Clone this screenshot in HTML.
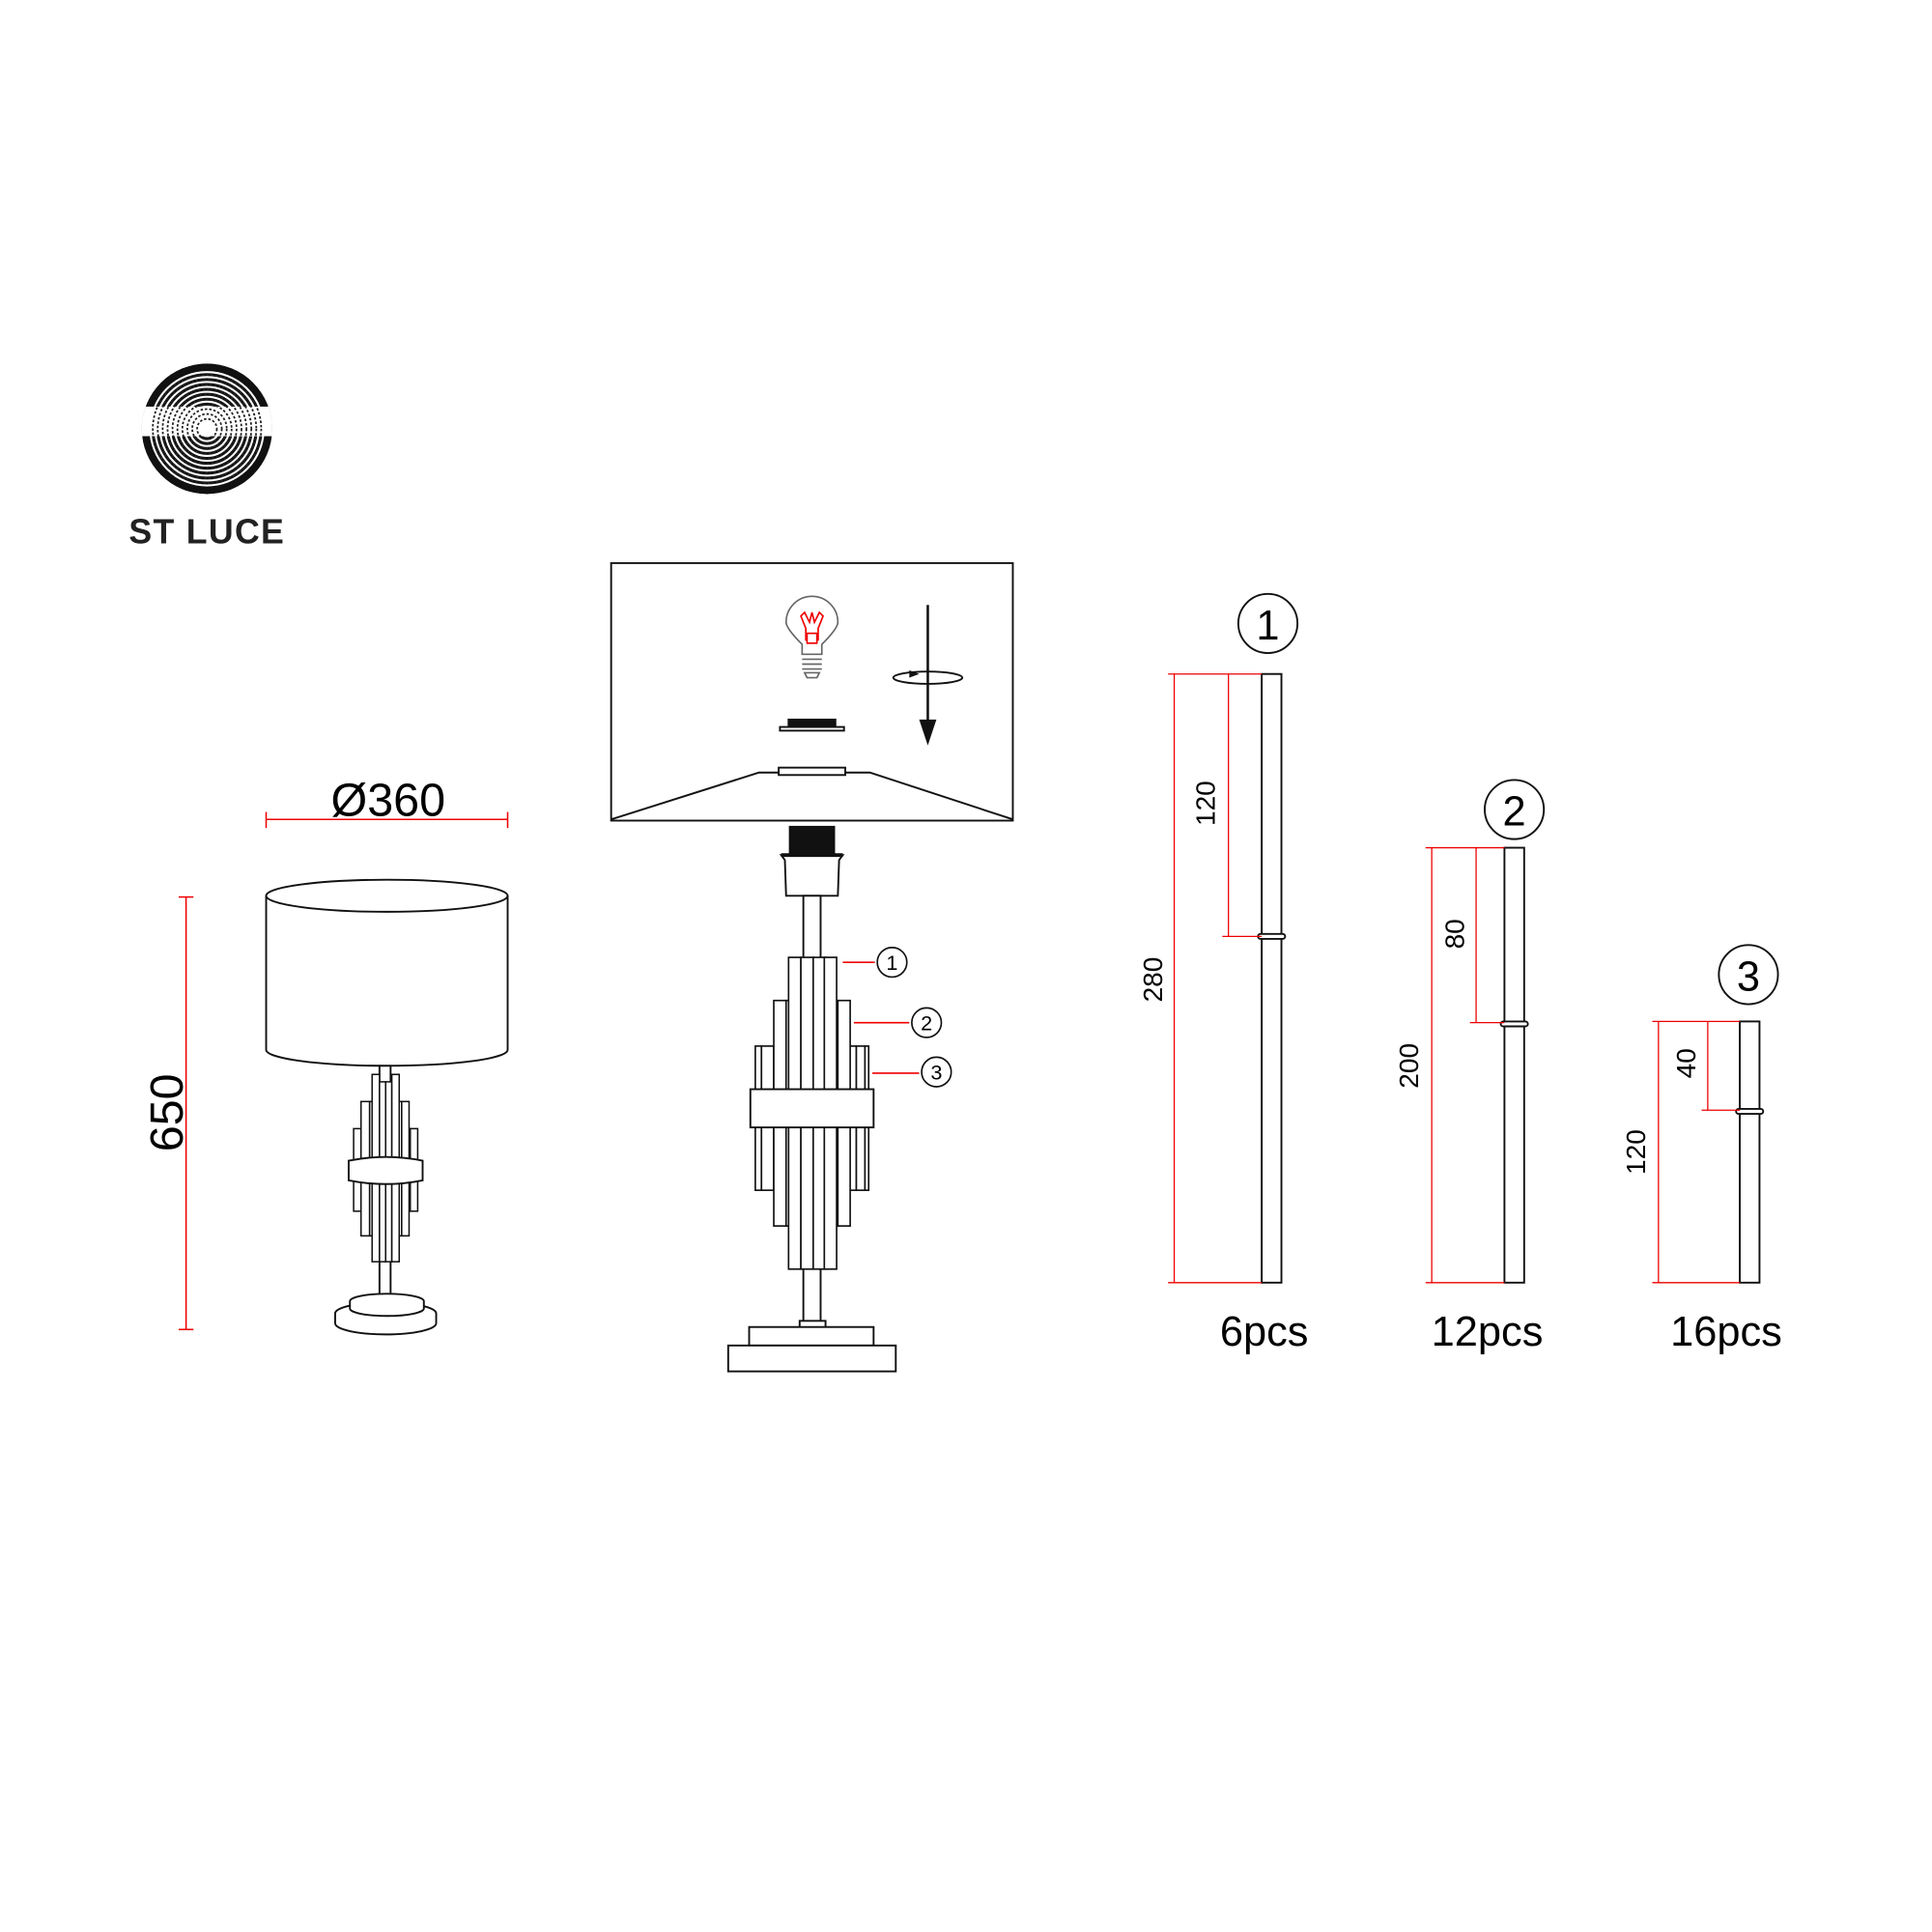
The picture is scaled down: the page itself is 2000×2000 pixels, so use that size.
<!DOCTYPE html>
<html><head><meta charset="utf-8"><style>html,body{margin:0;padding:0;background:#fff}svg{display:block}</style></head>
<body>
<svg width="2000" height="2000" viewBox="0 0 1568 1568" xmlns="http://www.w3.org/2000/svg" font-family="Liberation Sans, sans-serif">
<rect width="1568" height="1568" fill="#fff"/>
<!-- logo -->
<defs><clipPath id="lc"><circle cx="168" cy="348" r="53"/></clipPath></defs>
<g clip-path="url(#lc)">
<circle cx="168" cy="348" r="53" fill="#111"/>
<rect x="110" y="330" width="120" height="24" fill="#fff"/>
<g fill="none" stroke="#fff" stroke-width="1.6">
<circle cx="168" cy="348" r="6"/><circle cx="168" cy="348" r="10"/><circle cx="168" cy="348" r="14"/><circle cx="168" cy="348" r="18"/><circle cx="168" cy="348" r="22"/><circle cx="168" cy="348" r="26"/><circle cx="168" cy="348" r="30"/><circle cx="168" cy="348" r="34"/><circle cx="168" cy="348" r="38"/><circle cx="168" cy="348" r="42"/><circle cx="168" cy="348" r="46"/>
</g>
<g fill="none" stroke="#222" stroke-width="1.4" stroke-dasharray="2 1.5">
<circle cx="168" cy="348" r="8"/><circle cx="168" cy="348" r="12"/><circle cx="168" cy="348" r="16"/><circle cx="168" cy="348" r="20"/><circle cx="168" cy="348" r="24"/><circle cx="168" cy="348" r="28"/><circle cx="168" cy="348" r="32"/><circle cx="168" cy="348" r="36"/><circle cx="168" cy="348" r="40"/><circle cx="168" cy="348" r="44"/>
</g>
</g>
<text x="168" y="441" font-size="28" font-weight="bold" text-anchor="middle" fill="#222" letter-spacing="1">ST LUCE</text>

<!-- left lamp dims -->
<g stroke="#e00" stroke-width="1.2" fill="none">
<line x1="216" y1="665" x2="412" y2="665"/><line x1="216" y1="659" x2="216" y2="672"/><line x1="412" y1="659" x2="412" y2="672"/>
<line x1="151" y1="728" x2="151" y2="1079"/><line x1="145" y1="728" x2="157" y2="728"/><line x1="145" y1="1079" x2="157" y2="1079"/>
</g>
<text x="315" y="662" font-size="38" text-anchor="middle">Ø360</text>
<text transform="translate(148,903) rotate(-90)" font-size="38" text-anchor="middle">650</text>
<!-- left lamp -->
<g stroke="#111" stroke-width="1.5" fill="#fff">
<path d="M216 727 L216 852 A98 13 0 0 0 412 852 L412 727"/>
<ellipse cx="314" cy="727" rx="98" ry="13"/>
<rect x="308" y="865" width="9" height="190"/>
<path d="M272 1066 A41 9 0 0 1 354 1066 L354 1074 A41 9 0 0 1 272 1074 Z"/>
<path d="M284 1056 A30 6 0 0 1 344 1056 L344 1062 A30 6 0 0 1 284 1062 Z"/>
<g stroke-width="1.2">
<rect x="287" y="916" width="6" height="67"/><rect x="293" y="916" width="8" height="67"/><rect x="301" y="916" width="7" height="67"/><rect x="318" y="916" width="7" height="67"/><rect x="325" y="916" width="8" height="67"/><rect x="333" y="916" width="6" height="67"/><rect x="309" y="916" width="8" height="67"/>
<rect x="293" y="894" width="7" height="109"/><rect x="300" y="894" width="8" height="109"/><rect x="318" y="894" width="8" height="109"/><rect x="326" y="894" width="6" height="109"/><rect x="309" y="894" width="8" height="109"/>
<rect x="302" y="872" width="6" height="152"/><rect x="308" y="878" width="5" height="146"/><rect x="313" y="878" width="5" height="146"/><rect x="318" y="872" width="6" height="152"/>
</g>
<path d="M283 942 Q313 936 343 942 L343 958 Q313 964 283 958 Z"/>
</g>

<!-- box -->
<g stroke="#111" stroke-width="1.5" fill="none">
<rect x="496" y="457" width="326" height="209"/>
<polyline points="496,665 616,627 706,627 822,665"/>
<rect x="632" y="623" width="54" height="6" fill="#fff"/>
<rect x="633" y="590" width="52" height="3"/>
<rect x="640" y="584" width="38" height="6" fill="#111"/>
<line x1="753" y1="491" x2="753" y2="585" stroke-width="2"/>
<ellipse cx="753" cy="550" rx="28" ry="5"/>
</g>
<polygon points="746,584 760,584 753,605" fill="#111"/>
<polygon points="738,544 746,547 738,550" fill="#111"/>
<g stroke="#666" stroke-width="1.3" fill="none">
<path d="M651 523 Q638 510 638 505 A21 21 0 1 1 680 505 Q680 510 667 523 L667 531 L651 531 Z"/>
<line x1="651" y1="535" x2="667" y2="535"/><line x1="651" y1="539" x2="667" y2="539"/><line x1="651" y1="543" x2="667" y2="543"/>
<path d="M653 546 L665 546 L663 550 L655 550 Z"/>
</g>
<g stroke="#e00" stroke-width="1.3" fill="none">
<path d="M654 520 L654 510 L650 500 L653 497 L657 505 L659 497 L661 505 L665 497 L668 500 L664 510 L664 520"/>
<rect x="655" y="514" width="8" height="8"/>
</g>

<!-- middle lamp -->
<g stroke="#111" stroke-width="1.5" fill="#fff">
<rect x="641" y="671" width="36" height="23" fill="#111"/>
<path d="M634 694 L684 694 L681 698 L680 727 L638 727 L637 698 Z"/>
<line x1="634" y1="694" x2="684" y2="694" stroke-width="3"/>
<rect x="652" y="727" width="14" height="350"/>
<rect x="649" y="1072" width="21" height="6"/>
<rect x="608" y="1077" width="101" height="15"/>
<rect x="591" y="1092" width="136" height="21"/>
<g stroke-width="1.3">
<rect x="613" y="849" width="5" height="117"/><rect x="618" y="849" width="10" height="117"/><rect x="628" y="849" width="10" height="117"/><rect x="643" y="849" width="10" height="117"/><rect x="664" y="849" width="10" height="117"/><rect x="684" y="849" width="11" height="117"/><rect x="695" y="849" width="7" height="117"/><rect x="702" y="849" width="3" height="117"/><rect x="674" y="849" width="10" height="117"/>
<rect x="628" y="812" width="10" height="183"/><rect x="638" y="812" width="10" height="183"/><rect x="670" y="812" width="10" height="183"/><rect x="680" y="812" width="10" height="183"/><rect x="653" y="812" width="11" height="183"/>
<rect x="640" y="777" width="10" height="253"/><rect x="650" y="777" width="10" height="253"/><rect x="660" y="777" width="10" height="253"/><rect x="669" y="777" width="10" height="253"/>
</g>
<rect x="609" y="884" width="100" height="31"/>
</g>
<g stroke="#e00" stroke-width="1.3">
<line x1="684" y1="781" x2="710" y2="781"/><line x1="693" y1="830" x2="738" y2="830"/><line x1="708" y1="871" x2="746" y2="871"/>
</g>
<g stroke="#111" stroke-width="1.3" fill="#fff">
<circle cx="724" cy="781" r="12"/><circle cx="752" cy="830" r="12"/><circle cx="760" cy="870" r="12"/>
</g>
<g font-size="17" text-anchor="middle"><text x="724" y="787">1</text><text x="752" y="836">2</text><text x="760" y="876">3</text></g>

<!-- rods -->
<g stroke="#111" stroke-width="1.5" fill="#fff">
<rect x="1024" y="547" width="16" height="494"/><rect x="1021" y="758" width="22" height="4" rx="2"/>
<rect x="1221" y="688" width="16" height="353"/><rect x="1218" y="829" width="22" height="4" rx="2"/>
<rect x="1412" y="829" width="16" height="212"/><rect x="1409" y="900" width="22" height="4" rx="2"/>
<circle cx="1029" cy="506" r="24"/><circle cx="1229" cy="657" r="24"/><circle cx="1419" cy="791" r="24"/>
</g>
<g font-size="34" text-anchor="middle"><text x="1029" y="519">1</text><text x="1229" y="670">2</text><text x="1419" y="804">3</text></g>
<g stroke="#e00" stroke-width="1" fill="none">
<line x1="948" y1="547" x2="1024" y2="547"/><line x1="948" y1="1041" x2="1024" y2="1041"/><line x1="953" y1="547" x2="953" y2="1041"/>
<line x1="992" y1="760" x2="1024" y2="760"/><line x1="997" y1="547" x2="997" y2="760"/>
<line x1="1157" y1="688" x2="1221" y2="688"/><line x1="1157" y1="1041" x2="1221" y2="1041"/><line x1="1162" y1="688" x2="1162" y2="1041"/>
<line x1="1193" y1="830" x2="1221" y2="830"/><line x1="1198" y1="688" x2="1198" y2="830"/>
<line x1="1341" y1="829" x2="1412" y2="829"/><line x1="1341" y1="1041" x2="1412" y2="1041"/><line x1="1346" y1="829" x2="1346" y2="1041"/>
<line x1="1381" y1="901" x2="1412" y2="901"/><line x1="1386" y1="829" x2="1386" y2="901"/>
</g>
<g font-size="22" text-anchor="middle">
<text transform="translate(943,795) rotate(-90)">280</text>
<text transform="translate(986,652) rotate(-90)">120</text>
<text transform="translate(1151,865) rotate(-90)">200</text>
<text transform="translate(1188,758) rotate(-90)">80</text>
<text transform="translate(1335,935) rotate(-90)">120</text>
<text transform="translate(1376,863) rotate(-90)">40</text>
</g>
<g font-size="34" text-anchor="middle"><text x="1026" y="1092">6pcs</text><text x="1207" y="1092">12pcs</text><text x="1401" y="1092">16pcs</text></g>
</svg>
</body></html>
